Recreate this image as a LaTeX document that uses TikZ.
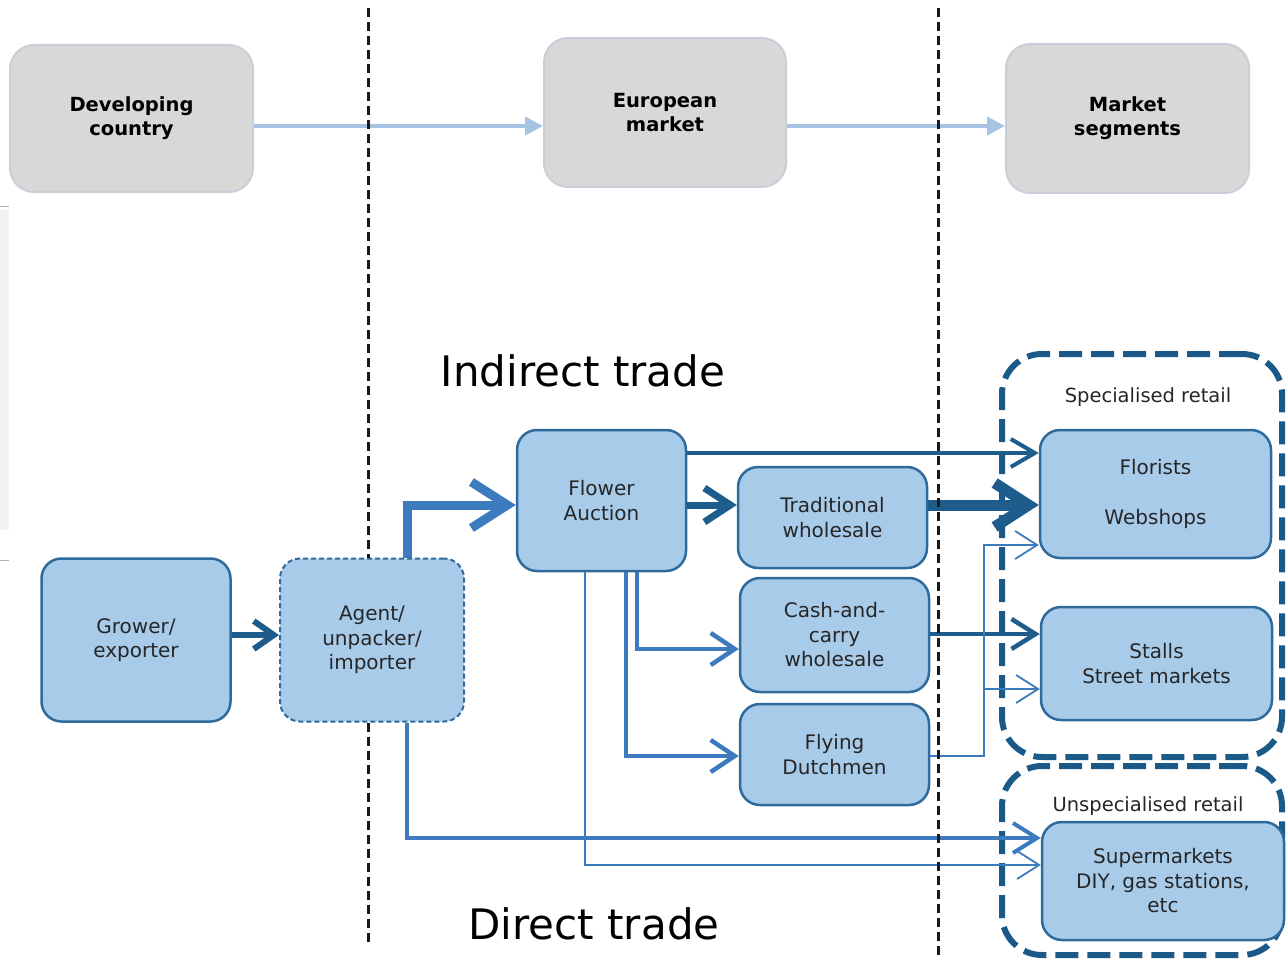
\documentclass[tikz,border=0pt]{standalone}
\usepackage{fontspec}
\setmainfont{DejaVu Sans}
\usetikzlibrary{arrows.meta}

\definecolor{grayfill}{HTML}{D8D8D8}
\definecolor{grayline}{HTML}{C8CFD9}
\definecolor{toparrow}{HTML}{A6C3E3}
\definecolor{boxfill}{HTML}{A9CBEA}
\definecolor{boxline}{HTML}{2E6A9B}
\definecolor{boxtext}{HTML}{262626}
\definecolor{darkflow}{HTML}{1E5C8C}
\definecolor{midflow}{HTML}{3C7BBE}
\definecolor{groupline}{HTML}{1B5A88}

\begin{document}
\begin{tikzpicture}[x=1pt,y=-1pt,
  graybox/.style={draw=grayline, fill=grayfill, line width=2pt, rounded corners=24pt,
    inner sep=0pt, align=center, font=\bfseries\fontsize{19.5}{24}\selectfont},
  toparr/.style={draw=toparrow, line width=4pt, -{Triangle[length=18pt,width=18pt]}},
  flowbox/.style={draw=boxline, fill=boxfill, line width=2.5pt, rounded corners=20pt,
    inner sep=0pt, align=center, text=boxtext, font=\fontsize{20}{24.5}\selectfont},
  agentbox/.style={flowbox, dash pattern=on 5pt off 3pt, line width=2pt},
  groupbox/.style={draw=groupline, line width=6pt, dash pattern=on 23pt off 9pt,
    rounded corners=40pt, inner sep=0pt},
  grouplabel/.style={text=boxtext, inner sep=0pt, font=\fontsize{19.5}{23}\selectfont},
  tradelabel/.style={text=black, inner sep=0pt, font=\fontsize{42}{50}\selectfont},
  border/.style={draw=black!90, line width=3pt, dash pattern=on 9pt off 5pt},
  barb/.style={-{Straight Barb[#1]}},
  flowdark/.style={draw=darkflow, line cap=butt},
  flowmid/.style={draw=midflow, line cap=butt}
]
\useasboundingbox (0,0) rectangle (1287,960);
\clip (0,0) rectangle (1287,960);

% faint page edge marks on the left
\fill[black!5] (0,210) rectangle (9,530);
\draw[black!30, line width=1pt] (0,207) -- (9,207);
\draw[black!30, line width=1pt] (0,560) -- (9,560);

% ---------- overview row ----------
\node[graybox, minimum width=243pt, minimum height=147pt] (dev) at (131.5,118.5) {Developing\\country};
\node[graybox, minimum width=242pt, minimum height=149pt] (eur) at (665,112.5) {European\\market};
\node[graybox, minimum width=243pt, minimum height=149pt] (seg) at (1127.5,118.5) {Market\\segments};

\coordinate (lvTop) at (0,126);
\draw[toparr] (dev.east |- lvTop) -- (eur.west |- lvTop);
\draw[toparr] (eur.east |- lvTop) -- (seg.west |- lvTop);

% ---------- retail groups ----------
\node[groupbox, minimum width=280pt, minimum height=403pt] (spec) at (1142,555.5) {};
\node[groupbox, minimum width=280pt, minimum height=189pt] (unspec) at (1142,860.5) {};
\node[grouplabel] (speclbl) at (1148,397) {Specialised retail};
\node[grouplabel] (unspeclbl) at (1148,806) {Unspecialised retail};

% ---------- chain nodes ----------
\node[flowbox, minimum width=189pt, minimum height=163pt] (grower) at (136,640) {Grower/\\exporter};
\node[agentbox, minimum width=184pt, minimum height=163pt] (agent) at (372,640) {Agent/\\unpacker/\\importer};
\node[flowbox, minimum width=169pt, minimum height=141pt] (flower) at (601.5,500.5) {Flower\\Auction};
\node[flowbox, minimum width=189pt, minimum height=101pt] (trad) at (832.5,517.5) {Traditional\\wholesale};
\node[flowbox, minimum width=189pt, minimum height=114pt] (cash) at (834.5,635) {Cash-and-\\carry\\wholesale};
\node[flowbox, minimum width=189pt, minimum height=101pt] (flying) at (834.5,754.5) {Flying\\Dutchmen};
\node[flowbox, minimum width=231pt, minimum height=128pt] (florists) at (1155.5,494) {Florists\\[25pt]Webshops};
\node[flowbox, minimum width=231pt, minimum height=113pt] (stalls) at (1156.5,663.5) {Stalls\\Street markets};
\node[flowbox, minimum width=242pt, minimum height=118pt] (super) at (1163,881) {Supermarkets\\DIY, gas stations,\\etc};

\node[tradelabel] (indirect) at (583,371) {Indirect trade};
\node[tradelabel] (direct) at (594,924) {Direct trade};

% ---------- flow levels ----------
\coordinate (lvGA) at (0,635);
\coordinate (lvMain) at (0,505);
\coordinate (lvTopF) at (0,453);
\coordinate (lvCS) at (0,634);
\coordinate (lvCC) at (0,649);
\coordinate (lvFD) at (0,756);
\coordinate (lvThinF) at (0,545);
\coordinate (lvThinS) at (0,689);
\coordinate (lvSupA) at (0,838);
\coordinate (lvSupB) at (0,865);
\coordinate (cxAgent) at (407,0);
\coordinate (cxCash) at (637,0);
\coordinate (cxFly) at (626,0);
\coordinate (cxThin) at (585,0);
\coordinate (cxRise) at (984,0);

% ---------- flows ----------
\draw[flowdark, line width=6pt, barb={length=20pt, width=28pt}] (grower.east |- lvGA) -- (agent.west |- lvGA);
\draw[flowmid, line width=9pt, barb={length=36pt, width=46pt}] (agent.north -| cxAgent) |- (flower.west |- lvMain);
\draw[flowdark, line width=7pt, barb={length=26pt, width=34pt}] (flower.east |- lvMain) -- (trad.west |- lvMain);
\draw[flowdark, line width=4pt, barb={length=24pt, width=28pt}] (flower.east |- lvTopF) -- (florists.west |- lvTopF);
\draw[flowdark, line width=11pt, barb={length=34pt, width=44pt}] (trad.east |- lvMain) -- (florists.west |- lvMain);
\draw[flowmid, line width=4.5pt, barb={length=24pt, width=32pt}] (flower.south -| cxCash) |- (cash.west |- lvCC);
\draw[flowmid, line width=4.5pt, barb={length=24pt, width=32pt}] (flower.south -| cxFly) |- (flying.west |- lvFD);
\draw[flowmid, line width=1.8pt, barb={length=22pt, width=28pt}] (flower.south -| cxThin) |- (super.west |- lvSupB);
\draw[flowmid, line width=4pt, barb={length=24pt, width=30pt}] (agent.south -| cxAgent) |- (super.west |- lvSupA);
\draw[flowdark, line width=4.5pt, barb={length=24pt, width=30pt}] (cash.east |- lvCS) -- (stalls.west |- lvCS);
\draw[flowmid, line width=1.8pt, barb={length=22pt, width=28pt}] (flying.east |- lvFD) -| (cxRise |- lvThinF) -- (florists.west |- lvThinF);
\draw[flowmid, line width=1.8pt, barb={length=22pt, width=28pt}] (cxRise |- lvThinS) -- (stalls.west |- lvThinS);

% ---------- region borders ----------
\coordinate (bdL) at (368,0);
\coordinate (bdR) at (938,0);
\draw[border] (bdL |- 0,8) -- (agent.north -| bdL);
\draw[border] (agent.south -| bdL) -- (bdL |- 0,942);
\draw[border] (bdR |- 0,8) -- (bdR |- 0,958);
\end{tikzpicture}
\end{document}
